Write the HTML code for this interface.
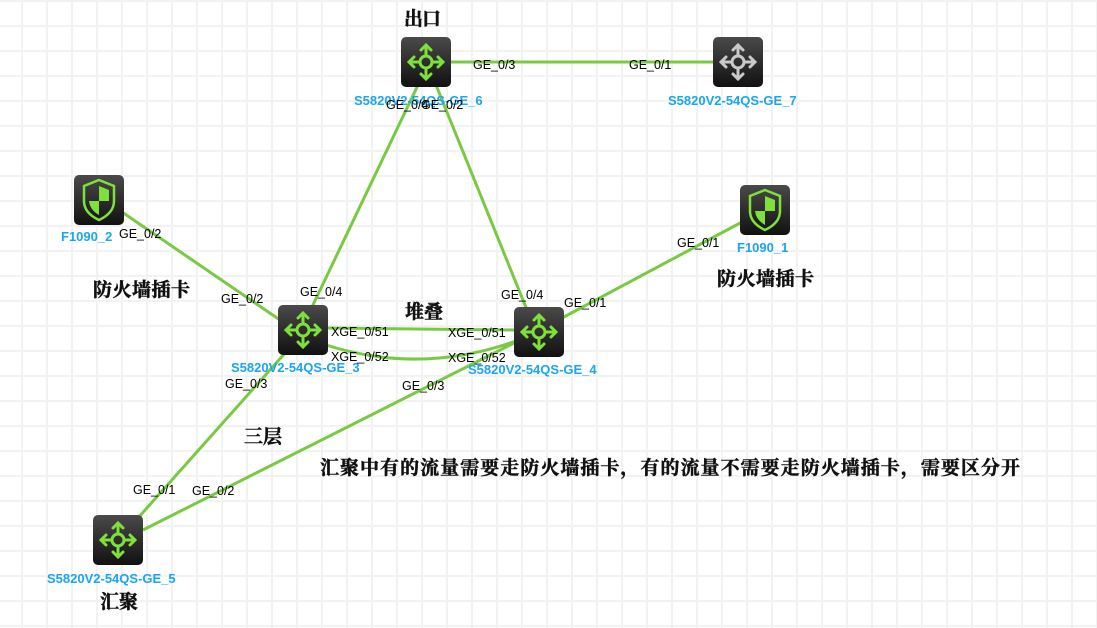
<!DOCTYPE html>
<html><head><meta charset="utf-8"><style>
html,body{margin:0;padding:0;background:#fff;}
svg{display:block;}
.p{font-family:"Liberation Sans",sans-serif;font-size:12.5px;fill:#000;}
.n{font-family:"Liberation Sans",sans-serif;font-size:13px;font-weight:bold;fill:#19a5f2;}
.c{font-family:"Liberation Serif","Noto Serif CJK SC",serif;font-size:19px;font-weight:bold;fill:#111;stroke:#111;stroke-width:0.5;}
</style></head><body>
<svg width="1097" height="628" viewBox="0 0 1097 628" xmlns="http://www.w3.org/2000/svg">
<defs>
<pattern id="g" x="-4" y="0" width="25" height="25" patternUnits="userSpaceOnUse">
<rect x="0" y="0" width="25" height="25" fill="#fff"/>
<rect x="0" y="0" width="2" height="25" fill="#f2f2f2"/>
<rect x="0" y="0" width="25" height="2" fill="#f2f2f2"/>
</pattern>
<linearGradient id="bg" x1="0" y1="0" x2="0" y2="1"><stop offset="0" stop-color="#4a4a4a"/><stop offset="1" stop-color="#111"/></linearGradient>
<g id="sw">
<rect x="0" y="0" width="50" height="50" rx="5" fill="url(#bg)"/>
<circle cx="25" cy="25" r="6" fill="none" stroke="currentColor" stroke-width="3"/>
<g stroke="currentColor" stroke-width="3" fill="none" stroke-linecap="round">
<line x1="25" y1="19" x2="25" y2="9"/><line x1="25" y1="31" x2="25" y2="41"/>
<line x1="19" y1="25" x2="9" y2="25"/><line x1="31" y1="25" x2="41" y2="25"/>
<polyline points="20,13 25,8 30,13"/><polyline points="20,37 25,42 30,37"/>
<polyline points="13,20 8,25 13,30"/><polyline points="37,20 42,25 37,30"/>
</g>
</g>
<g id="fw">
<rect x="0" y="0" width="50" height="50" rx="5" fill="url(#bg)"/>
<path d="M25 5 L40 11 L40 26 Q40 38 25 45 Q10 38 10 26 L10 11 Z" fill="none" stroke="#7fe03a" stroke-width="2.5"/>
<path d="M25 11 L35 15 L35 26 L25 26 Z" fill="#7fe03a"/>
<path d="M25 26 L15 26 Q16 35 25 40 Z" fill="#7fe03a"/>
</g>
</defs>
<rect width="1097" height="628" fill="url(#g)"/>
<g stroke="#7ac943" stroke-width="3" fill="none">
<line x1="451" y1="62" x2="713" y2="62"/>
<line x1="418" y1="85" x2="312" y2="307"/>
<line x1="436" y1="85" x2="527" y2="310"/>
<line x1="122" y1="212" x2="280" y2="320"/>
<line x1="742" y1="222" x2="562" y2="318"/>
<line x1="328" y1="328" x2="514" y2="330"/>
<path d="M326 345 Q420 375 516 341"/>
<line x1="138" y1="518" x2="286" y2="352"/>
<line x1="143" y1="530" x2="516" y2="342"/>
</g>
<use href="#sw" x="401" y="37" style="color:#7fe03a"/>
<use href="#sw" x="713" y="37" style="color:#c9c9c9"/>
<use href="#sw" x="278" y="305" style="color:#7fe03a"/>
<use href="#sw" x="514" y="307" style="color:#7fe03a"/>
<use href="#sw" x="93" y="515" style="color:#7fe03a"/>
<use href="#fw" x="74" y="175"/>
<use href="#fw" x="740" y="185"/>
<text class="n" x="354" y="105">S5820V2-54QS-GE_6</text>
<text class="n" x="668" y="105">S5820V2-54QS-GE_7</text>
<text class="n" x="231" y="372">S5820V2-54QS-GE_3</text>
<text class="n" x="468" y="374">S5820V2-54QS-GE_4</text>
<text class="n" x="47" y="583">S5820V2-54QS-GE_5</text>
<text class="n" x="61" y="241">F1090_2</text>
<text class="n" x="737" y="252">F1090_1</text>
<g class="p">
<text x="473" y="69">GE_0/3</text>
<text x="629" y="69">GE_0/1</text>
<text x="386" y="109">GE_0/4</text>
<text x="421" y="109">GE_0/2</text>
<text x="119" y="238">GE_0/2</text>
<text x="677" y="247">GE_0/1</text>
<text x="221" y="303">GE_0/2</text>
<text x="300" y="296">GE_0/4</text>
<text x="501" y="299">GE_0/4</text>
<text x="564" y="307">GE_0/1</text>
<text x="331" y="336">XGE_0/51</text>
<text x="448" y="337">XGE_0/51</text>
<text x="331" y="361">XGE_0/52</text>
<text x="448" y="362">XGE_0/52</text>
<text x="225" y="388">GE_0/3</text>
<text x="402" y="390">GE_0/3</text>
<text x="133" y="494">GE_0/1</text>
<text x="192" y="495">GE_0/2</text>
</g>
<text class="c" x="404" y="25" textLength="37">出口</text>
<text class="c" x="405" y="318" textLength="38">堆叠</text>
<text class="c" x="93" y="296" textLength="97">防火墙插卡</text>
<text class="c" x="717" y="285" textLength="97">防火墙插卡</text>
<text class="c" x="244" y="443" textLength="38">三层</text>
<text class="c" x="100" y="608" textLength="38">汇聚</text>
<text class="c" x="320" y="474" textLength="700">汇聚中有的流量需要走防火墙插卡，有的流量不需要走防火墙插卡，需要区分开</text>
</svg>
</body></html>
